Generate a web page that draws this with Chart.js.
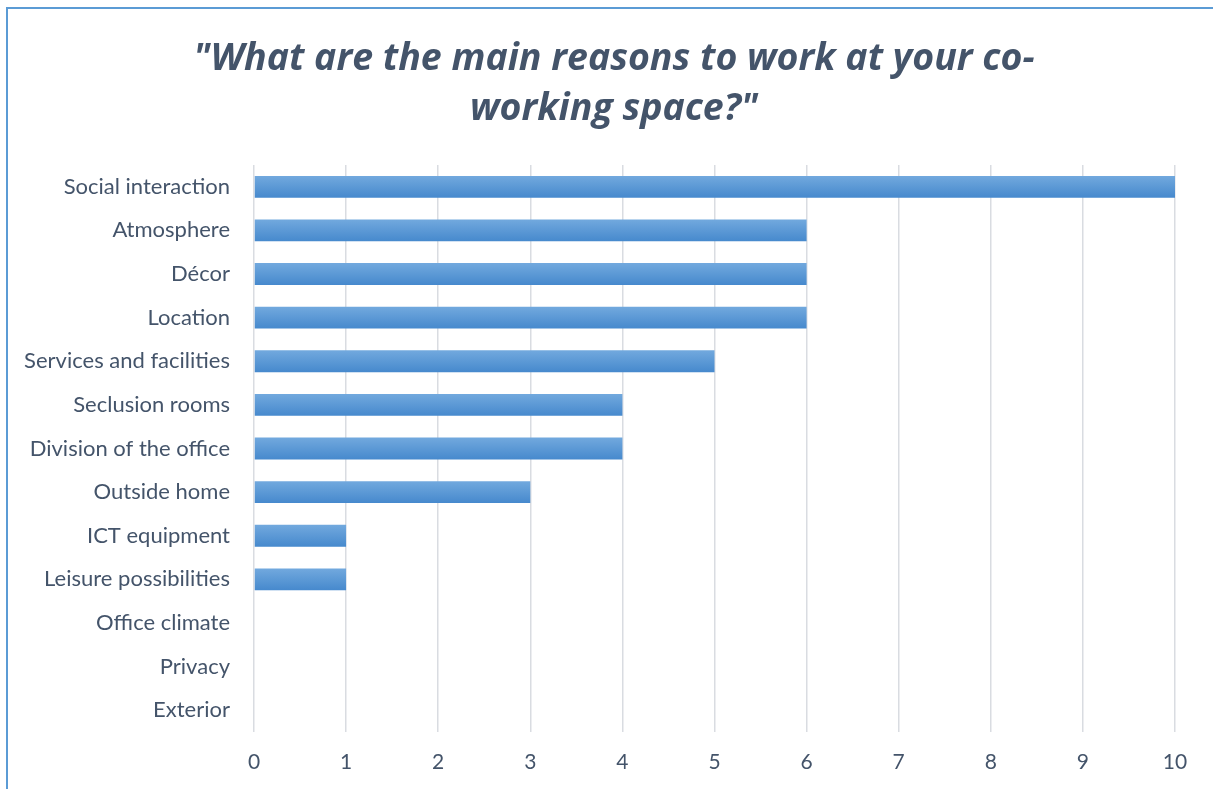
<!DOCTYPE html>
<html>
<head>
<meta charset="utf-8">
<title>Co-working reasons</title>
<script src="https://cdn.jsdelivr.net/npm/chart.js@4"></script>
<style>
    html, body { margin: 0; padding: 0; background: #ffffff; }
    #wrap { position: relative; width: 1213px; height: 789px; overflow: hidden; }
    #frame {
        position: absolute; left: 6px; top: 7px; right: -10px; bottom: -10px;
        border-top: 2px solid #5b9bd5; border-left: 2px solid #5b9bd5;
    }
    #reasonsChart { position: absolute; left: 0; top: 0; }
</style>
</head>
<body>
<div id="wrap">
    <div id="frame"></div>
    <canvas id="reasonsChart" width="1213" height="789"></canvas>
</div>
<script>
// chart data
const reasons = [
    'Social interaction', 'Atmosphere', 'Décor', 'Location', 'Services and facilities',
    'Seclusion rooms', 'Division of the office', 'Outside home', 'ICT equipment',
    'Leisure possibilities', 'Office climate', 'Privacy', 'Exterior'
];
const counts = [10, 6, 6, 6, 5, 4, 4, 3, 1, 1, 0, 0, 0];
const titleLines = ['"What are the main reasons to work at your co-', 'working space?"'];

const textColor = '#44546a';
const BAR_HALF = 11;

// vertical gradient per bar, positioned from the y scale
function barGradient(context) {
    const chart = context.chart;
    const yScale = chart.scales.y;
    if (!yScale || context.dataIndex === undefined) return '#5b9bd5';
    const yc = yScale.getPixelForValue(context.dataIndex);
    if (!isFinite(yc)) return '#5b9bd5';
    const g = chart.ctx.createLinearGradient(0, yc - BAR_HALF, 0, yc + BAR_HALF);
    g.addColorStop(0, '#72a9de');
    g.addColorStop(1, '#4689cd');
    return g;
}

// nudge the title box so it is centred like the original
const titleShift = {
    id: 'titleShift',
    afterLayout(chart) {
        if (chart.titleBlock) chart.titleBlock.left = 53;
    }
};

document.addEventListener('DOMContentLoaded', function() {
    const ctx = document.getElementById('reasonsChart').getContext('2d');
    const chart = new Chart(ctx, {
        type: 'bar',
        data: {
            labels: reasons,
            datasets: [{
                data: counts,
                backgroundColor: barGradient,
                borderWidth: 0,
                categoryPercentage: 1,
                barPercentage: 0.5
            }]
        },
        options: {
            indexAxis: 'y',
            responsive: false,
            animation: false,
            layout: { padding: { left: 0, right: 38, top: 0, bottom: 0 } },
            plugins: {
                legend: { display: false },
                title: {
                    display: true,
                    text: titleLines,
                    color: textColor,
                    font: { family: 'Open Sans', size: 37.5, weight: 'bold', style: 'italic', lineHeight: 1.333 },
                    padding: { top: 34, bottom: 31 }
                }
            },
            scales: {
                x: {
                    min: 0,
                    max: 10,
                    ticks: {
                        stepSize: 1,
                        color: textColor,
                        padding: 18,
                        font: { family: 'Lato', size: 21 }
                    },
                    grid: { color: '#d9dce1', lineWidth: 1.5, drawTicks: false },
                    border: { display: false },
                    afterFit: function(scale) { scale.height = 57; }
                },
                y: {
                    ticks: {
                        color: textColor,
                        padding: 24,
                        font: { family: 'Lato', size: 22 }
                    },
                    grid: { display: false, drawTicks: false },
                    border: { display: false },
                    afterFit: function(scale) { scale.width = 254; }
                }
            }
        },
        plugins: [titleShift]
    });
    // re-resolve gradients once scales have their final pixels
    chart.update('none');
});
</script>
</body>
</html>
